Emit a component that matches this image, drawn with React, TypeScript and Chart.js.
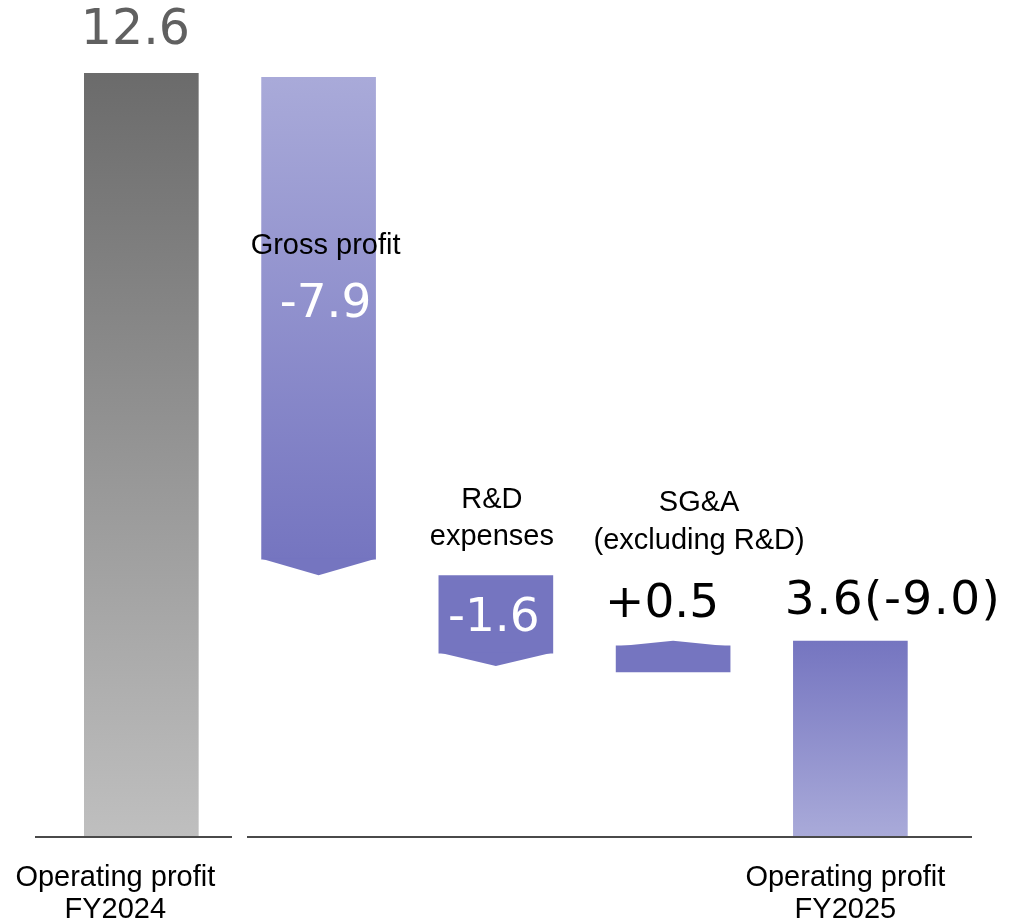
import React, { useEffect, useRef } from 'react';
import { Chart, registerables } from 'chart.js';

Chart.register(...registerables);

// ---- data ----
const categories = [
  'Operating profit FY2024',
  'Gross profit',
  'R&D expenses',
  'SG&A (excluding R&D)',
  'Operating profit FY2025',
];
const barLow = [0, 4.57, 3.02, 2.71, 0];
const barHigh = [12.6, 12.53, 4.3, 3.14, 3.22];
const valueLabels = ['12.6', '-7.9', '-1.6', '+0.5', '3.6(-9.0)'];
const nameLabels = [[], ['Gross profit'], ['R&D', 'expenses'], ['SG&A', '(excluding R&D)'], []];
const axisLabels = [['Operating profit', 'FY2024'], [], [], [], ['Operating profit', 'FY2025']];
const arrowDir = [0, -1, -1, 1, 0];

// ---- styles ----
const PURPLE = '#7575c0';
const LAVENDER = '#a9aad9';
const tipPx = [0, 16, 13, 5, 0];
const TXT_FONT = '29px "Liberation Sans", Arial, sans-serif';
const valueStyle = [
  { dx: -6, y: 31, color: '#606060', size: 49, spacing: 0 },
  { dx: 7, y: 305, color: '#ffffff', size: 47, spacing: 0 },
  { dx: -2, y: 619, color: '#ffffff', size: 47, spacing: 0 },
  { dx: -11, y: 605, color: '#000000', size: 47, spacing: 0 },
  { dx: 42, y: 602, color: '#000000', size: 47, spacing: 1.5 },
];
const nameStyle = [
  { dx: 0, ys: [] as number[] },
  { dx: 7, ys: [246] },
  { dx: -4, ys: [500, 537] },
  { dx: 26, ys: [503, 541] },
  { dx: 0, ys: [] as number[] },
];
const axisStyle = [
  { dx: -26, ys: [878, 910] },
  { dx: 0, ys: [] as number[] },
  { dx: 0, ys: [] as number[] },
  { dx: 0, ys: [] as number[] },
  { dx: -5, ys: [878, 910] },
];

const overlayPlugin = {
  id: 'waterfallOverlay',
  afterDatasetsDraw(chart: any) {
    const ctx = chart.ctx;
    const meta = chart.getDatasetMeta(0);
    const yScale = chart.scales.y;
    const zeroY = yScale.getPixelForValue(0);
    ctx.save();
    // arrow tips
    meta.data.forEach((el: any, i: number) => {
      const { x, y, base, width } = el.getProps(['x', 'y', 'base', 'width'], true);
      const top = Math.min(y, base);
      const bot = Math.max(y, base);
      const half = width / 2;
      ctx.fillStyle = PURPLE;
      if (arrowDir[i] < 0) {
        ctx.beginPath();
        ctx.moveTo(x - half, bot - 0.6);
        ctx.lineTo(x + half, bot - 0.6);
        ctx.lineTo(x, bot + tipPx[i]);
        ctx.closePath();
        ctx.fill();
      } else if (arrowDir[i] > 0) {
        ctx.beginPath();
        ctx.moveTo(x - half, top + 0.6);
        ctx.lineTo(x + half, top + 0.6);
        ctx.lineTo(x, top - tipPx[i]);
        ctx.closePath();
        ctx.fill();
      }
    });
    // baseline segments
    ctx.strokeStyle = '#4a4a4a';
    ctx.lineWidth = 2;
    const b = Math.round(zeroY) + 1;
    ctx.beginPath();
    ctx.moveTo(35, b);
    ctx.lineTo(232, b);
    ctx.moveTo(247, b);
    ctx.lineTo(972, b);
    ctx.stroke();

    // texts
    ctx.textAlign = 'center';
    ctx.textBaseline = 'middle';
    meta.data.forEach((el: any, i: number) => {
      const { x } = el.getProps(['x'], true);
      ctx.font = TXT_FONT;
      ctx.fillStyle = '#000000';
      (ctx as any).letterSpacing = '0px';
      nameLabels[i].forEach((t, k) => ctx.fillText(t, x + nameStyle[i].dx, nameStyle[i].ys[k]));
      axisLabels[i].forEach((t, k) => ctx.fillText(t, x + axisStyle[i].dx, axisStyle[i].ys[k]));
      const vs = valueStyle[i];
      ctx.font = `${vs.size}px "DejaVu Sans"`;
      (ctx as any).letterSpacing = `${vs.spacing}px`;
      ctx.fillStyle = vs.color;
      ctx.fillText(valueLabels[i], x + vs.dx + vs.spacing / 2, vs.y);
    });
    (ctx as any).letterSpacing = '0px';
    ctx.restore();
  },
};

export default function App() {
  const ref = useRef<HTMLCanvasElement | null>(null);
  useEffect(() => {
    if (!ref.current) return;
    const chart = new Chart(ref.current, {
      type: 'bar',
      data: {
        labels: categories,
        datasets: [
          {
            data: categories.map((_, i) => [barLow[i], barHigh[i]]) as any,
            barThickness: 114,
            borderWidth: 0,
            borderSkipped: false,
            backgroundColor: (c: any) => {
              const ch = c.chart;
              const i = c.dataIndex;
              if (!ch.chartArea || i === undefined) return PURPLE;
              const ys = ch.scales.y;
              const t = ys.getPixelForValue(barHigh[i]);
              const bt = ys.getPixelForValue(barLow[i]);
              const g = ch.ctx.createLinearGradient(0, t, 0, bt);
              if (i === 0) {
                g.addColorStop(0, '#6b6b6b');
                g.addColorStop(1, '#bfbfbf');
                return g;
              }
              if (i === 1) {
                g.addColorStop(0, LAVENDER);
                g.addColorStop(1, PURPLE);
                return g;
              }
              if (i === 4) {
                g.addColorStop(0, PURPLE);
                g.addColorStop(1, LAVENDER);
                return g;
              }
              return PURPLE;
            },
          },
        ],
      },
      options: {
        responsive: false,
        animation: false,
        layout: { padding: { left: 52.7, right: 71, top: 73, bottom: 87 } },
        plugins: { legend: { display: false }, tooltip: { enabled: false } },
        scales: {
          x: { display: false },
          y: { display: false, min: 0, max: 12.6 },
        },
      },
      plugins: [overlayPlugin],
    });
    return () => chart.destroy();
  }, []);
  return (
    <div style={{ position: 'absolute', left: 0, top: 0, width: 1010, height: 923, background: '#fff' }}>
      <canvas ref={ref} width={1010} height={923} />
    </div>
  );
}
